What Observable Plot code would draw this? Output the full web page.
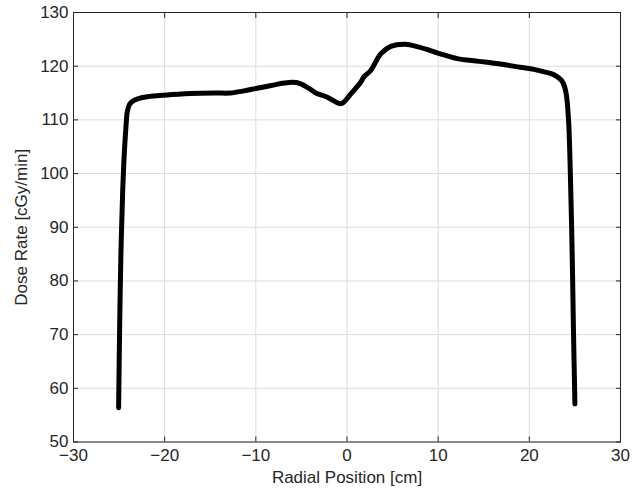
<!DOCTYPE html>
<html>
<head>
<meta charset="utf-8">
<script src="https://cdn.jsdelivr.net/npm/d3@7"></script>
<script src="https://cdn.jsdelivr.net/npm/@observablehq/plot@0.6"></script>
<style>
  html, body { margin: 0; padding: 0; background: white; }
  #chart svg { display: block; }
</style>
</head>
<body>
<div id="chart"></div>
<script>
const radialPosition = [-25.05, -24.95, -24.8, -24.6, -24.45, -24.25, -24.1, -23.85, -23.5, -22.8, -21.9, -20, -17.2, -14.5, -12.8, -11.3, -9.85, -8.3, -6.9, -6.0, -5.2, -4.5, -4.0, -3.3, -2.55, -1.8, -0.7, -0.35, 0.4, 1.5, 1.85, 2.6, 3.7, 4.8, 6.4, 7.8, 9.0, 10.25, 12.1, 14.5, 16.8, 19.0, 20.5, 21.5, 22.4, 23.0, 23.5, 23.8, 24.05, 24.3, 24.5, 24.7, 24.85, 25.0];
const doseRate = [56.4, 70, 85, 97, 103, 108.6, 111.5, 112.9, 113.5, 114.0, 114.3, 114.6, 114.9, 115.0, 115.0, 115.4, 115.9, 116.4, 116.85, 117.0, 116.8, 116.2, 115.7, 114.9, 114.5, 113.9, 113.0, 113.3, 114.8, 117.0, 118.0, 119.2, 122.3, 123.7, 124.1, 123.6, 123.0, 122.3, 121.4, 120.9, 120.4, 119.8, 119.4, 119.0, 118.6, 118.1, 117.4, 116.5, 114.8, 110, 100, 85, 70, 57.1];
const xTicks = [-30, -20, -10, 0, 10, 20, 30];
const yTicks = [50, 60, 70, 80, 90, 100, 110, 120, 130];
const xLabel = "Radial Position [cm]";
const yLabel = "Dose Rate [cGy/min]";

const data = radialPosition.map((x, i) => ({x, y: doseRate[i]}));
const axisColor = "#262626";

const chart = Plot.plot({
  width: 632,
  height: 489,
  marginLeft: 73,
  marginRight: 12,
  marginTop: 12,
  marginBottom: 47.5,
  x: {domain: [-30, 30]},
  y: {domain: [50, 130]},
  style: {fontFamily: "'Liberation Sans', Arial, sans-serif", fontSize: "17px", background: "white", color: axisColor},
  marks: [
    Plot.gridX(xTicks, {stroke: "#dcdcdc", strokeOpacity: 1}),
    Plot.gridY(yTicks, {stroke: "#dcdcdc", strokeOpacity: 1}),
    Plot.axisX(xTicks, {anchor: "bottom", tickSize: 0, tickPadding: 7, label: xLabel, labelAnchor: "center", labelOffset: 41, labelArrow: "none", color: axisColor}),
    Plot.axisY(yTicks, {anchor: "left", tickSize: 0, tickPadding: 5, label: yLabel, labelAnchor: "center", labelOffset: 59, labelArrow: "none", color: axisColor}),
    Plot.axisX(xTicks, {anchor: "bottom", tickSize: -5, fill: "none", label: null, stroke: axisColor}),
    Plot.axisX(xTicks, {anchor: "top", tickSize: -5, fill: "none", label: null, stroke: axisColor}),
    Plot.axisY(yTicks, {anchor: "left", tickSize: -5, fill: "none", label: null, stroke: axisColor}),
    Plot.axisY(yTicks, {anchor: "right", tickSize: -5, fill: "none", label: null, stroke: axisColor}),
    Plot.frame({stroke: axisColor}),
    Plot.line(data, {x: "x", y: "y", stroke: "black", strokeWidth: 5, curve: "catmull-rom"})
  ]
});
document.getElementById("chart").appendChild(chart);
</script>
</body>
</html>
